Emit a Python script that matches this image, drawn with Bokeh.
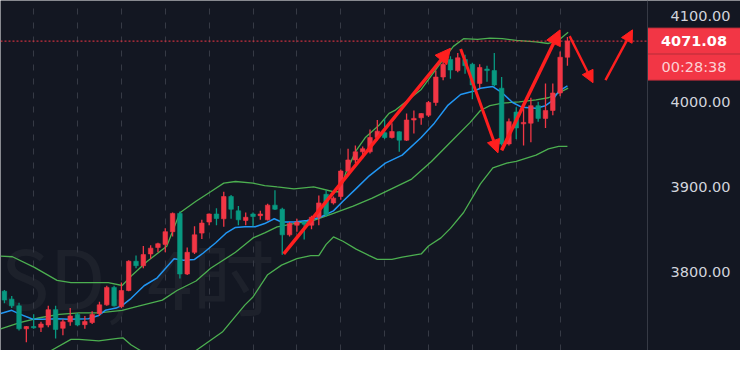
from bokeh.plotting import figure
from bokeh.models import (Range1d, FixedTicker, Grid, PrintfTickFormatter,
                          Label, Arrow, NormalHead, ColumnDataSource)
from bokeh.core.properties import value
from bokeh.embed import file_html
from bokeh.resources import INLINE

# ---------------- data (4H candles) ----------------
OPEN = [3777.9, 3768.6, 3760.8, 3733.8, 3736.4, 3735.6, 3738.3, 3756.3, 3734.5, 3742.0,
        3750.7, 3738.7, 3741.2, 3751.8, 3761.9, 3782.4, 3760.0, 3778.7, 3813.0, 3807.8,
        3821.6, 3829.1, 3832.8, 3847.7, 3869.1, 3798.1, 3823.5, 3846.0, 3859.0, 3868.4,
        3862.8, 3888.9, 3872.1, 3860.9, 3868.4, 3866.5, 3861.6, 3878.8, 3874.0, 3844.0,
        3855.3, 3859.0, 3855.3, 3864.6, 3891.5, 3881.4, 3888.9, 3918.8, 3931.8, 3941.3,
        3941.3, 3958.1, 3963.7, 3958.1, 3964.8, 3955.0, 3978.6, 3981.2, 3984.2, 3999.1,
        4029.0, 4049.6, 4036.5, 4049.6, 4043.9, 4021.5, 4038.3, 4036.5, 4015.9, 3950.6,
        3987.9, 3974.1, 3974.9, 3995.4, 3980.5, 3989.8, 4010.3, 4052.2]
HIGH = [3779.4, 3772.3, 3764.5, 3737.0, 3751.0, 3742.0, 3760.8, 3760.8, 3745.1, 3758.1,
        3752.5, 3748.8, 3754.4, 3765.6, 3784.3, 3784.3, 3788.0, 3814.1, 3819.7, 3830.9,
        3831.7, 3834.7, 3851.6, 3870.2, 3871.3, 3829.1, 3854.1, 3861.6, 3869.0, 3875.1,
        3894.5, 3890.8, 3877.7, 3870.2, 3870.2, 3872.1, 3880.3, 3896.4, 3875.8, 3859.0,
        3862.8, 3859.2, 3866.5, 3890.0, 3896.4, 3888.9, 3920.6, 3945.0, 3948.7, 3947.5,
        3967.4, 3978.6, 3980.5, 3974.9, 3965.5, 3986.1, 3989.8, 3986.5, 4000.9, 4036.5,
        4049.6, 4053.4, 4057.1, 4055.2, 4045.8, 4043.9, 4042.2, 4057.1, 4029.0, 3980.5,
        3993.5, 3992.0, 4004.7, 3999.9, 4021.5, 4021.5, 4059.0, 4075.8]
LOW = [3763.7, 3758.1, 3731.9, 3718.2, 3733.8, 3730.0, 3735.6, 3722.6, 3726.3, 3737.5,
       3736.8, 3733.8, 3739.5, 3748.8, 3760.8, 3760.0, 3758.1, 3777.9, 3804.8, 3804.8,
       3816.0, 3823.5, 3823.5, 3842.1, 3792.8, 3797.0, 3821.6, 3839.2, 3855.3, 3855.3,
       3853.4, 3862.8, 3855.3, 3855.3, 3854.1, 3861.6, 3860.9, 3873.0, 3820.5, 3842.1,
       3847.7, 3838.4, 3850.4, 3855.3, 3865.4, 3879.6, 3885.2, 3916.9, 3928.1, 3933.7,
       3939.3, 3955.0, 3956.2, 3957.0, 3941.3, 3954.0, 3962.9, 3973.0, 3982.0, 3995.4,
       4025.3, 4027.1, 4034.6, 4032.7, 4002.9, 4015.9, 4023.4, 4017.8, 3948.6, 3948.6,
       3956.2, 3948.6, 3952.5, 3976.7, 3969.3, 3984.2, 4006.6, 4042.2]
CLOSE = [3767.5, 3760.8, 3733.8, 3736.4, 3735.0, 3739.5, 3756.3, 3733.1, 3742.0, 3748.8,
         3738.3, 3742.4, 3750.7, 3761.9, 3782.4, 3760.8, 3778.7, 3813.0, 3807.8, 3820.8,
         3828.4, 3833.6, 3847.7, 3869.1, 3798.1, 3823.5, 3844.0, 3857.8, 3868.4, 3863.1,
         3888.9, 3874.0, 3861.6, 3864.6, 3865.4, 3868.4, 3878.8, 3874.0, 3844.0, 3857.2,
         3859.0, 3856.4, 3864.6, 3881.4, 3867.6, 3887.0, 3918.8, 3931.8, 3941.3, 3945.0,
         3958.1, 3965.5, 3958.1, 3965.1, 3955.0, 3978.6, 3980.5, 3986.1, 3999.1, 4029.0,
         4043.9, 4037.2, 4051.5, 4042.2, 4019.7, 4040.2, 4036.5, 4019.7, 3950.6, 3976.7,
         3969.3, 3975.8, 3995.4, 3980.5, 3989.8, 4010.3, 4052.2, 4071.08]

# Bollinger upper / middle / lower and blue moving average (x = bar index)
UPPER_X = [-0.5, 1.1, 4.1, 7.2, 9.1, 14.2, 16.1, 17.5, 19.5, 22.2, 24.0, 26.2, 28.2, 30.0,
           31.6, 34.0, 35.6, 37.3, 39.6, 42.3, 45.0, 45.9, 46.7, 48.1, 49.4, 51.3, 52.6,
           53.4, 57.0, 59.7, 61.4, 62.8, 64.7, 66.4, 68.1, 70.0, 72.7, 74.4, 75.8, 77.1]
UPPER_V = [3819.1, 3818.3, 3805.9, 3790.6, 3788.0, 3788.0, 3784.6, 3797.0, 3812.7, 3830.6,
           3869.8, 3883.3, 3894.5, 3904.6, 3906.5, 3904.6, 3901.8, 3900.1, 3897.9, 3900.1,
           3894.5, 3894.5, 3916.9, 3942.7, 3958.4, 3973.0, 3986.4, 3989.8, 4014.5, 4045.8,
           4064.9, 4073.9, 4073.1, 4074.7, 4073.9, 4072.0, 4070.2, 4068.3, 4072.0, 4081.4]
MID_X = [-0.5, 2.1, 4.8, 7.5, 10.2, 12.9, 16.1, 18.2, 21.6, 23.6, 26.2, 28.2, 31.6, 34.0,
         35.6, 37.3, 39.6, 42.3, 45.0, 47.7, 50.3, 53.0, 55.7, 58.4, 61.0, 63.7, 65.1,
         66.4, 68.1, 70.4, 72.7, 74.4, 75.8, 77.1]
MID_V = [3733.8, 3741.2, 3746.8, 3750.7, 3752.5, 3752.5, 3755.5, 3760.0, 3767.5, 3778.7,
         3789.9, 3804.8, 3823.5, 3840.4, 3846.3, 3853.4, 3857.2, 3860.9, 3869.1, 3877.7,
         3887.0, 3898.2, 3909.4, 3930.0, 3952.5, 3975.8, 3989.8, 3995.4, 3998.4, 3999.9,
         4002.1, 4004.7, 4010.3, 4015.9]
LOWER_X = [3.0, 5.5, 6.4, 9.1, 10.2, 12.9, 15.5, 16.2, 17.3, 18.6, 20.5, 22.5, 24.5, 26.2,
           29.8, 32.9, 34.0, 36.0, 37.9, 40.0, 41.9, 43.0, 44.0, 45.0, 46.3, 48.1, 49.9,
           51.0, 53.0, 54.4, 57.0, 58.0, 59.7, 61.0, 62.8, 65.1, 66.8, 68.7, 70.0, 72.7,
           74.4, 75.8, 77.0]
LOWER_V = [3690.0, 3703.0, 3708.4, 3721.5, 3721.5, 3719.6, 3722.6, 3723.3, 3715.1, 3708.4,
           3700.0, 3695.0, 3699.0, 3708.4, 3730.0, 3761.9, 3771.2, 3797.3, 3808.5, 3816.0,
           3819.7, 3819.7, 3832.8, 3841.5, 3836.5, 3827.2, 3819.7, 3815.2, 3815.2, 3817.9,
           3821.6, 3830.9, 3840.4, 3851.6, 3870.2, 3903.8, 3922.5, 3928.1, 3930.0, 3937.4,
           3944.7, 3947.7, 3947.7]
MA_X = [-0.5, 1.0, 2.1, 3.9, 5.2, 7.2, 8.8, 11.5, 12.9, 13.8, 15.3, 16.2, 17.3, 19.1, 20.9,
        23.2, 24.5, 26.0, 27.2, 28.9, 30.3, 31.6, 32.9, 34.3, 35.6, 36.9, 37.9, 39.6, 41.4,
        43.2, 45.0, 46.3, 48.1, 49.9, 52.1, 54.4, 57.0, 58.8, 60.6, 62.4, 64.1, 65.1, 66.8,
        68.1, 69.5, 70.8, 72.7, 74.0, 74.9, 75.8, 77.0]
MA_V = [3751.8, 3755.5, 3751.0, 3745.1, 3745.1, 3745.7, 3745.1, 3745.7, 3749.5, 3755.5,
        3758.1, 3761.9, 3769.3, 3784.3, 3793.6, 3816.0, 3814.1, 3815.2, 3822.7, 3834.7,
        3845.9, 3852.7, 3853.4, 3853.4, 3857.2, 3862.8, 3859.0, 3859.0, 3860.9, 3864.6,
        3872.1, 3883.3, 3898.2, 3913.2, 3928.1, 3937.4, 3958.1, 3974.9, 3995.4, 4008.5,
        4012.2, 4015.9, 4017.8, 4010.3, 3999.1, 3993.5, 3992.4, 3995.4, 4001.0, 4012.2,
        4018.6]

LAST_PRICE = 4071.08
COUNTDOWN = "00:28:38"
WATERMARK = "SD, 4时"
Y_TICKS = [3800, 3900, 4000, 4100]
GRID_IDX = [4, 10, 16, 22, 28, 34, 40, 46, 52, 58, 64, 70, 76]

# hand-drawn red arrows (start bar, start price, end bar, end price)
ARROW_X0 = [38.2, 62.4, 68.0, 77.3, 82.2]
ARROW_Y0 = [3821.6, 4061.9, 3943.0, 4076.9, 4025.3]
ARROW_X1 = [61.0, 67.5, 76.0, 80.5, 85.9]
ARROW_Y1 = [4062.7, 3940.1, 4084.3, 4022.3, 4084.3]

# ---------------- styling / layout ----------------
BG = "#131722"
UP = "#f23645"
DOWN = "#089981"
W, H = 740, 350
CHART_W = 647                 # width of the candle pane, the rest is the price scale
X0, SEP = -0.535, 87.95       # bar index at left edge and at the price-scale separator
XEND = X0 + (SEP - X0) * W / CHART_W
Y0, Y1 = 3708.4, 4118.7
PX = (Y1 - Y0) / H            # price per pixel

p = figure(width=W, height=H, x_range=Range1d(X0, XEND), y_range=Range1d(Y0, Y1),
           y_axis_location="right", x_axis_location=None,
           toolbar_location=None, output_backend="svg",
           min_border_left=0, min_border_top=0, min_border_bottom=0, min_border_right=0,
           background_fill_color=BG, border_fill_color=BG, outline_line_color=None)

p.ygrid.visible = False
p.xgrid.visible = False
p.add_layout(Grid(dimension=0, ticker=FixedTicker(ticks=GRID_IDX),
                  grid_line_color="#363a45", grid_line_dash="6 8", grid_line_width=1))

# watermark
p.text(x=[X0], y=[3797.0], text=[WATERMARK], text_align="left",
       text_baseline="alphabetic", text_font_size="82px",
       text_font=value("Noto Sans CJK SC"), text_color="white", text_alpha=0.045,
       level="underlay")

# price scale: real axis drawn at the separator position
ax = p.yaxis[0]
ax.fixed_location = SEP
ax.ticker = FixedTicker(ticks=Y_TICKS)
ax.formatter = PrintfTickFormatter(format="%.2f")
ax.major_label_text_color = "#d1d4dc"
ax.major_label_text_font = "DejaVu Sans"
ax.major_label_text_font_size = "14.5px"
ax.major_label_standoff = 17
ax.major_tick_line_color = None
ax.minor_tick_line_color = None
ax.axis_line_color = "#363a45"

# bands & MA
p.line(LOWER_X, LOWER_V, line_color="#4caf50", line_width=1.3)
p.line(MID_X, MID_V, line_color="#4caf50", line_width=1.3)
p.line(UPPER_X, UPPER_V, line_color="#4caf50", line_width=1.3)
p.line(MA_X, MA_V, line_color="#2196f3", line_width=1.5)

# candles
idx = list(range(len(OPEN)))
col = [UP if c >= o else DOWN for o, c in zip(OPEN, CLOSE)]
src = ColumnDataSource(dict(
    x=idx, high=HIGH, low=LOW,
    top=[max(o, c) for o, c in zip(OPEN, CLOSE)],
    bottom=[min(o, c) for o, c in zip(OPEN, CLOSE)],
    color=col))
p.segment(x0="x", y0="high", x1="x", y1="low", line_color="color", line_width=1.3, source=src)
p.vbar(x="x", width=0.62, top="top", bottom="bottom", fill_color="color",
       line_color="color", line_width=0.6, source=src)

# last price dotted line (chart pane only)
p.segment(x0=[X0], y0=[LAST_PRICE], x1=[SEP], y1=[LAST_PRICE], line_color=UP,
          line_dash="2 2", line_width=1)

# arrows
ARROW_W = [3.5, 3.0, 3.5, 2.4, 2.4]
HEAD = [15, 13, 15, 12, 12]
for xa, ya, xb, yb, lw, hs in zip(ARROW_X0, ARROW_Y0, ARROW_X1, ARROW_Y1, ARROW_W, HEAD):
    p.add_layout(Arrow(x_start=xa, y_start=ya, x_end=xb, y_end=yb,
                       line_color="#ff1f1f", line_width=lw,
                       end=NormalHead(size=hs, fill_color="#ff1f1f", line_color="#ff1f1f",
                                      line_width=1)))

# price / countdown boxes on the price scale
half = 13 * PX
p.quad(left=[SEP, SEP], right=[XEND, XEND],
       top=[LAST_PRICE + half, LAST_PRICE - half],
       bottom=[LAST_PRICE - half, LAST_PRICE - 3 * half],
       fill_color=UP, line_color="#c22f3b", line_width=1)
lab_x = (SEP + XEND) / 2.0
p.add_layout(Label(x=lab_x, y=LAST_PRICE, text=f"{LAST_PRICE:.2f}",
                   text_align="center", text_baseline="middle",
                   text_font="DejaVu Sans", text_font_style="bold",
                   text_font_size="14.5px", text_color="#ffffff"))
p.add_layout(Label(x=lab_x, y=LAST_PRICE - 2 * half, text=COUNTDOWN,
                   text_align="center", text_baseline="middle",
                   text_font="DejaVu Sans",
                   text_font_size="14.5px", text_color="#fcd0d4"))

html = file_html(p, INLINE)
html = html.replace("<body>", '<body style="background-color:#131722;">', 1)
open("out.html", "w").write(html)
